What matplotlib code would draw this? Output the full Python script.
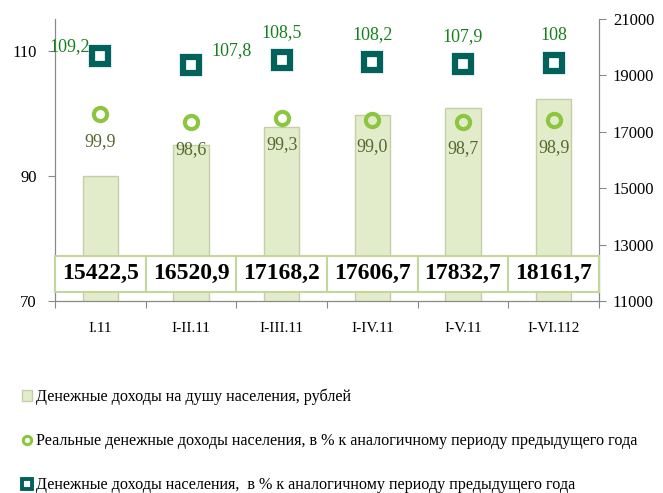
import matplotlib.pyplot as plt
import matplotlib.transforms as mtransforms
from matplotlib.patches import Rectangle
from matplotlib.lines import Line2D
from matplotlib.patches import Patch
import numpy as np

plt.rcParams['font.family'] = ['Liberation Serif', 'DejaVu Serif']

periods = ['I.11', 'I-II.11', 'I-III.11', 'I-IV.11', 'I-V.11', 'I-VI.112']
income_per_capita = [15422.5, 16520.9, 17168.2, 17606.7, 17832.7, 18161.7]
real_income_pct = [99.9, 98.6, 99.3, 99.0, 98.7, 98.9]
nominal_income_pct = [109.2, 107.8, 108.5, 108.2, 107.9, 108.0]
real_labels = ['99,9', '98,6', '99,3', '99,0', '98,7', '98,9']
nominal_labels = ['109,2', '107,8', '108,5', '108,2', '107,9', '108']
bar_labels = ['15422,5', '16520,9', '17168,2', '17606,7', '17832,7', '18161,7']

fig = plt.figure(figsize=(6.63, 4.93), dpi=100)
ax = fig.add_axes([55/663, 1 - 301/493, 544/663, 282/493])
ax2 = ax.twinx()

x = np.arange(len(periods))

# bars (right axis)
ax2.bar(x, income_per_capita, width=0.39, bottom=0, color='#e3ecca',
        edgecolor='#c3cfa8', linewidth=1, zorder=1)
ax2.set_ylim(11000, 21000)
ax2.set_yticks(range(11000, 21001, 2000))

# markers (left axis)
ax.set_zorder(ax2.get_zorder() + 1)
ax.patch.set_visible(False)
ax.plot(x, real_income_pct, 'o', ms=9.5, mfc='none', mec='#8cc63e', mew=3, zorder=5)
ax.plot(x, nominal_income_pct, 's', ms=11, mfc='white', mec='#00625a', mew=4.5, zorder=5)
ax.set_ylim(70, 115.1)
ax.set_yticks([70, 90, 110])
ax.set_xlim(-0.5, len(periods) - 0.5)

for i in range(len(periods)):
    ax.annotate(real_labels[i], (x[i], real_income_pct[i]), xytext=(0, -19.5),
                textcoords='offset points', ha='center', va='center',
                fontsize=13, color='#55672c')
nominal_offsets = [(-22, 6.5), (29, 10), (0, 20), (0, 20), (0, 20), (0, 20)]
for i in range(len(periods)):
    ax.annotate(nominal_labels[i], (x[i], nominal_income_pct[i]), xytext=nominal_offsets[i],
                textcoords='offset points', ha='center', va='center',
                fontsize=13, color='#17801e')

# boxed values for the bars
trans = mtransforms.blended_transform_factory(ax.transData, ax.transAxes)
for i in range(len(periods)):
    ax.add_patch(Rectangle((x[i] - 0.5, 0.032), 1.0, 0.128, transform=trans,
                           facecolor='white', edgecolor='#c3d69b', linewidth=1.5,
                           zorder=6, clip_on=False))
    ax.text(x[i], 0.096, bar_labels[i], transform=trans, ha='center', va='center',
            fontsize=17, fontweight='bold', zorder=7)

# axes
ax.set_xticks(np.arange(-0.5, len(periods), 1.0))
ax.set_xticklabels([])
ax.set_xticks(x, minor=True)
ax.set_xticklabels(periods, minor=True, fontsize=11)
ax.tick_params(axis='x', which='major', length=5, color='#888888')
ax.tick_params(axis='x', which='minor', length=0, pad=15)
ax.tick_params(axis='y', length=5, color='#888888', labelsize=12, pad=8)
ax2.tick_params(axis='y', length=5, color='#888888', labelsize=12, pad=5)
for a in (ax, ax2):
    a.spines['top'].set_visible(False)
    for s in ('left', 'right', 'bottom'):
        a.spines[s].set_color('#888888')

# legend
handles = [
    Patch(facecolor='#e3ecca', edgecolor='#c3cfa8'),
    Line2D([], [], marker='o', ls='none', ms=6, mfc='none', mec='#8cc63e', mew=2.2),
    Line2D([], [], marker='s', ls='none', ms=7, mfc='white', mec='#00625a', mew=2.8),
]
labels = ['Денежные доходы на душу населения, рублей',
          'Реальные денежные доходы населения, в % к аналогичному периоду предыдущего года',
          'Денежные доходы населения,  в % к аналогичному периоду предыдущего года']
fig.legend(handles, labels, loc='upper left', bbox_to_anchor=(0.033, 0.212), frameon=False,
           fontsize=11.6, handlelength=0.6, handletextpad=0.25, labelspacing=1.75,
           borderaxespad=0, borderpad=0)

fig.savefig('out.png', dpi=100)
